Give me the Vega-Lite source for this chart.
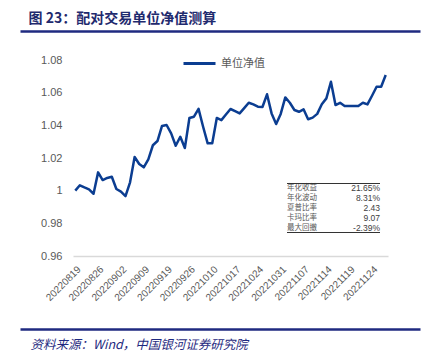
{
  "$schema": "https://vega.github.io/schema/vega-lite/v6.json",
  "width": 400,
  "height": 196,
  "autosize": {"type": "none"},
  "padding": {"left": 20, "top": 60, "right": 8, "bottom": 108},
  "background": "white",
  "config": {"view": {"stroke": null}, "font": "Liberation Sans"},
  "datasets": {
    "nav": [
      {"date": "20220819", "nav": 1.0000}, {"date": "20220822", "nav": 1.0033}, {"date": "20220823", "nav": 1.0020},
      {"date": "20220824", "nav": 1.0008}, {"date": "20220825", "nav": 0.9981}, {"date": "20220826", "nav": 1.0112},
      {"date": "20220829", "nav": 1.0065}, {"date": "20220830", "nav": 1.0078}, {"date": "20220831", "nav": 1.0085},
      {"date": "20220901", "nav": 1.0010}, {"date": "20220902", "nav": 0.9994}, {"date": "20220905", "nav": 0.9967},
      {"date": "20220906", "nav": 1.0051}, {"date": "20220907", "nav": 1.0206}, {"date": "20220908", "nav": 1.0163},
      {"date": "20220909", "nav": 1.0143}, {"date": "20220913", "nav": 1.0192}, {"date": "20220914", "nav": 1.0278},
      {"date": "20220915", "nav": 1.0304}, {"date": "20220916", "nav": 1.0396}, {"date": "20220919", "nav": 1.0402},
      {"date": "20220920", "nav": 1.0351}, {"date": "20220921", "nav": 1.0275}, {"date": "20220922", "nav": 1.0330},
      {"date": "20220923", "nav": 1.0261}, {"date": "20220926", "nav": 1.0445}, {"date": "20220927", "nav": 1.0453},
      {"date": "20220928", "nav": 1.0501}, {"date": "20220929", "nav": 1.0391}, {"date": "20220930", "nav": 1.0290},
      {"date": "20221010", "nav": 1.0290}, {"date": "20221011", "nav": 1.0445}, {"date": "20221012", "nav": 1.0432},
      {"date": "20221013", "nav": 1.0466}, {"date": "20221014", "nav": 1.0500}, {"date": "20221017", "nav": 1.0487},
      {"date": "20221018", "nav": 1.0473}, {"date": "20221019", "nav": 1.0505}, {"date": "20221020", "nav": 1.0538},
      {"date": "20221021", "nav": 1.0528}, {"date": "20221024", "nav": 1.0514}, {"date": "20221025", "nav": 1.0512},
      {"date": "20221026", "nav": 1.0590}, {"date": "20221027", "nav": 1.0473}, {"date": "20221028", "nav": 1.0408},
      {"date": "20221031", "nav": 1.0470}, {"date": "20221101", "nav": 1.0571}, {"date": "20221102", "nav": 1.0538},
      {"date": "20221103", "nav": 1.0494}, {"date": "20221104", "nav": 1.0483}, {"date": "20221107", "nav": 1.0498},
      {"date": "20221108", "nav": 1.0437}, {"date": "20221109", "nav": 1.0447}, {"date": "20221110", "nav": 1.0470},
      {"date": "20221111", "nav": 1.0529}, {"date": "20221114", "nav": 1.0565}, {"date": "20221115", "nav": 1.0667},
      {"date": "20221116", "nav": 1.0524}, {"date": "20221117", "nav": 1.0538}, {"date": "20221118", "nav": 1.0518},
      {"date": "20221119", "nav": 1.0518}, {"date": "20221120", "nav": 1.0518}, {"date": "20221121", "nav": 1.0518},
      {"date": "20221122", "nav": 1.0538}, {"date": "20221123", "nav": 1.0528}, {"date": "20221124", "nav": 1.0581},
      {"date": "20221125", "nav": 1.0636}, {"date": "20221128", "nav": 1.0636}, {"date": "20221129", "nav": 1.0708}
    ],
    "stats": [
      {"k": "年化收益", "v": "21.65%"},
      {"k": "年化波动", "v": "8.31%"},
      {"k": "夏普比率", "v": "2.43"},
      {"k": "卡玛比率", "v": "9.07"},
      {"k": "最大回撤", "v": "-2.39%"}
    ]
  },
  "layer": [
    {
      "data": {"name": "nav"},
      "mark": {"type": "line", "strokeWidth": 2.5, "strokeJoin": "round"},
      "encoding": {
        "x": {
          "field": "date", "type": "ordinal", "sort": null,
          "scale": {"type": "point", "range": [53, 368], "padding": 0.5},
          "axis": {
            "values": ["20220819","20220826","20220902","20220909","20220919","20220926","20221010","20221017","20221024","20221031","20221107","20221114","20221119","20221124"],
            "labelAngle": -45, "labelFontSize": 10, "labelColor": "#595959", "ticks": false, "tickSize": 0,
            "domainColor": "#D9D9D9", "domainWidth": 1.3, "title": null, "labelPadding": 8, "grid": false
          }
        },
        "y": {
          "field": "nav", "type": "quantitative",
          "scale": {"domain": [0.96, 1.08], "nice": false, "zero": false},
          "axis": {
            "values": [0.96, 0.98, 1, 1.02, 1.04, 1.06, 1.08], "format": "~g", "offset": -52,
            "domain": false, "ticks": false, "tickSize": 0, "grid": false, "labelPadding": 10,
            "labelFontSize": 11, "labelColor": "#595959", "title": null
          }
        },
        "color": {
          "datum": "单位净值",
          "scale": {"range": ["#0B3D91"]},
          "legend": {
            "orient": "none", "legendX": 162, "legendY": -14, "title": null, "padding": 0,
            "symbolType": "stroke", "symbolSize": 1024, "symbolStrokeWidth": 3,
            "labelFont": "Noto Sans CJK SC", "labelFontSize": 11, "labelColor": "#595959", "labelOffset": 4
          }
        }
      }
    },
    {
      "data": {"name": "nav"},
      "transform": [{"filter": "false"}],
      "mark": "point",
      "encoding": {
        "x": {
          "field": "nav", "type": "quantitative", "scale": {"domain": [0, 1], "nice": false},
          "axis": {
            "orient": "top", "offset": 29, "domainColor": "#1F2A80", "domainWidth": 2.5,
            "labels": false, "ticks": false, "grid": false,
            "title": "图 23：配对交易单位净值测算", "titleFont": "Noto Sans CJK SC", "titleFontWeight": "bold",
            "titleFontSize": 14, "titleColor": "#1F2A6E", "titleAlign": "left", "titleBaseline": "alphabetic",
            "titleX": 8, "titleY": -9
          }
        }
      }
    },
    {
      "data": {"name": "nav"},
      "transform": [{"filter": "false"}],
      "mark": "point",
      "encoding": {
        "x": {
          "field": "nav", "type": "quantitative", "scale": {"domain": [0, 1], "nice": false},
          "axis": {
            "orient": "bottom", "offset": 73, "domainColor": "#1F2A80", "domainWidth": 2.5,
            "labels": false, "ticks": false, "grid": false,
            "title": "资料来源：Wind，中国银河证券研究院", "titleFont": "Noto Sans CJK SC", "titleFontWeight": "normal",
            "titleFontStyle": "italic", "titleFontSize": 12.5, "titleColor": "#1F2A80", "titleAlign": "left",
            "titleBaseline": "middle", "titleX": 10, "titleY": 15
          }
        }
      }
    },
    {
      "data": {"name": "stats"},
      "encoding": {
        "y": {
          "field": "k", "type": "nominal", "sort": null,
          "scale": {"type": "band", "domain": ["年化收益", "年化波动", "夏普比率", "卡玛比率", "最大回撤"], "range": [123.5, 172.5], "paddingInner": 0, "paddingOuter": 0},
          "axis": null
        }
      },
      "layer": [
        {
          "mark": {"type": "text", "align": "left", "baseline": "middle", "fontSize": 7.5, "font": "Noto Sans CJK SC", "color": "#595959"},
          "encoding": {
            "x": {"datum": 0, "type": "quantitative", "scale": {"domain": [0, 1], "range": [267, 360], "nice": false}, "axis": null},
            "text": {"field": "k"}
          }
        },
        {
          "mark": {"type": "text", "align": "right", "baseline": "middle", "fontSize": 8.5, "color": "#404040"},
          "encoding": {
            "x": {"datum": 1, "type": "quantitative"},
            "text": {"field": "v"}
          }
        },
        {
          "transform": [{"filter": "datum.k === '年化收益'"}],
          "mark": {"type": "rule", "color": "#333333", "strokeWidth": 1},
          "encoding": {
            "x": {"datum": 0, "type": "quantitative"},
            "x2": {"datum": 1},
            "y": {"field": "k", "type": "nominal", "bandPosition": 0}
          }
        },
        {
          "transform": [{"filter": "datum.k === '最大回撤'"}],
          "mark": {"type": "rule", "color": "#333333", "strokeWidth": 1},
          "encoding": {
            "x": {"datum": 0, "type": "quantitative"},
            "x2": {"datum": 1},
            "y": {"field": "k", "type": "nominal", "bandPosition": 1}
          }
        }
      ]
    }
  ],
  "resolve": {
    "scale": {"x": "independent", "y": "independent", "color": "independent"},
    "axis": {"x": "independent", "y": "independent"}
  }
}
